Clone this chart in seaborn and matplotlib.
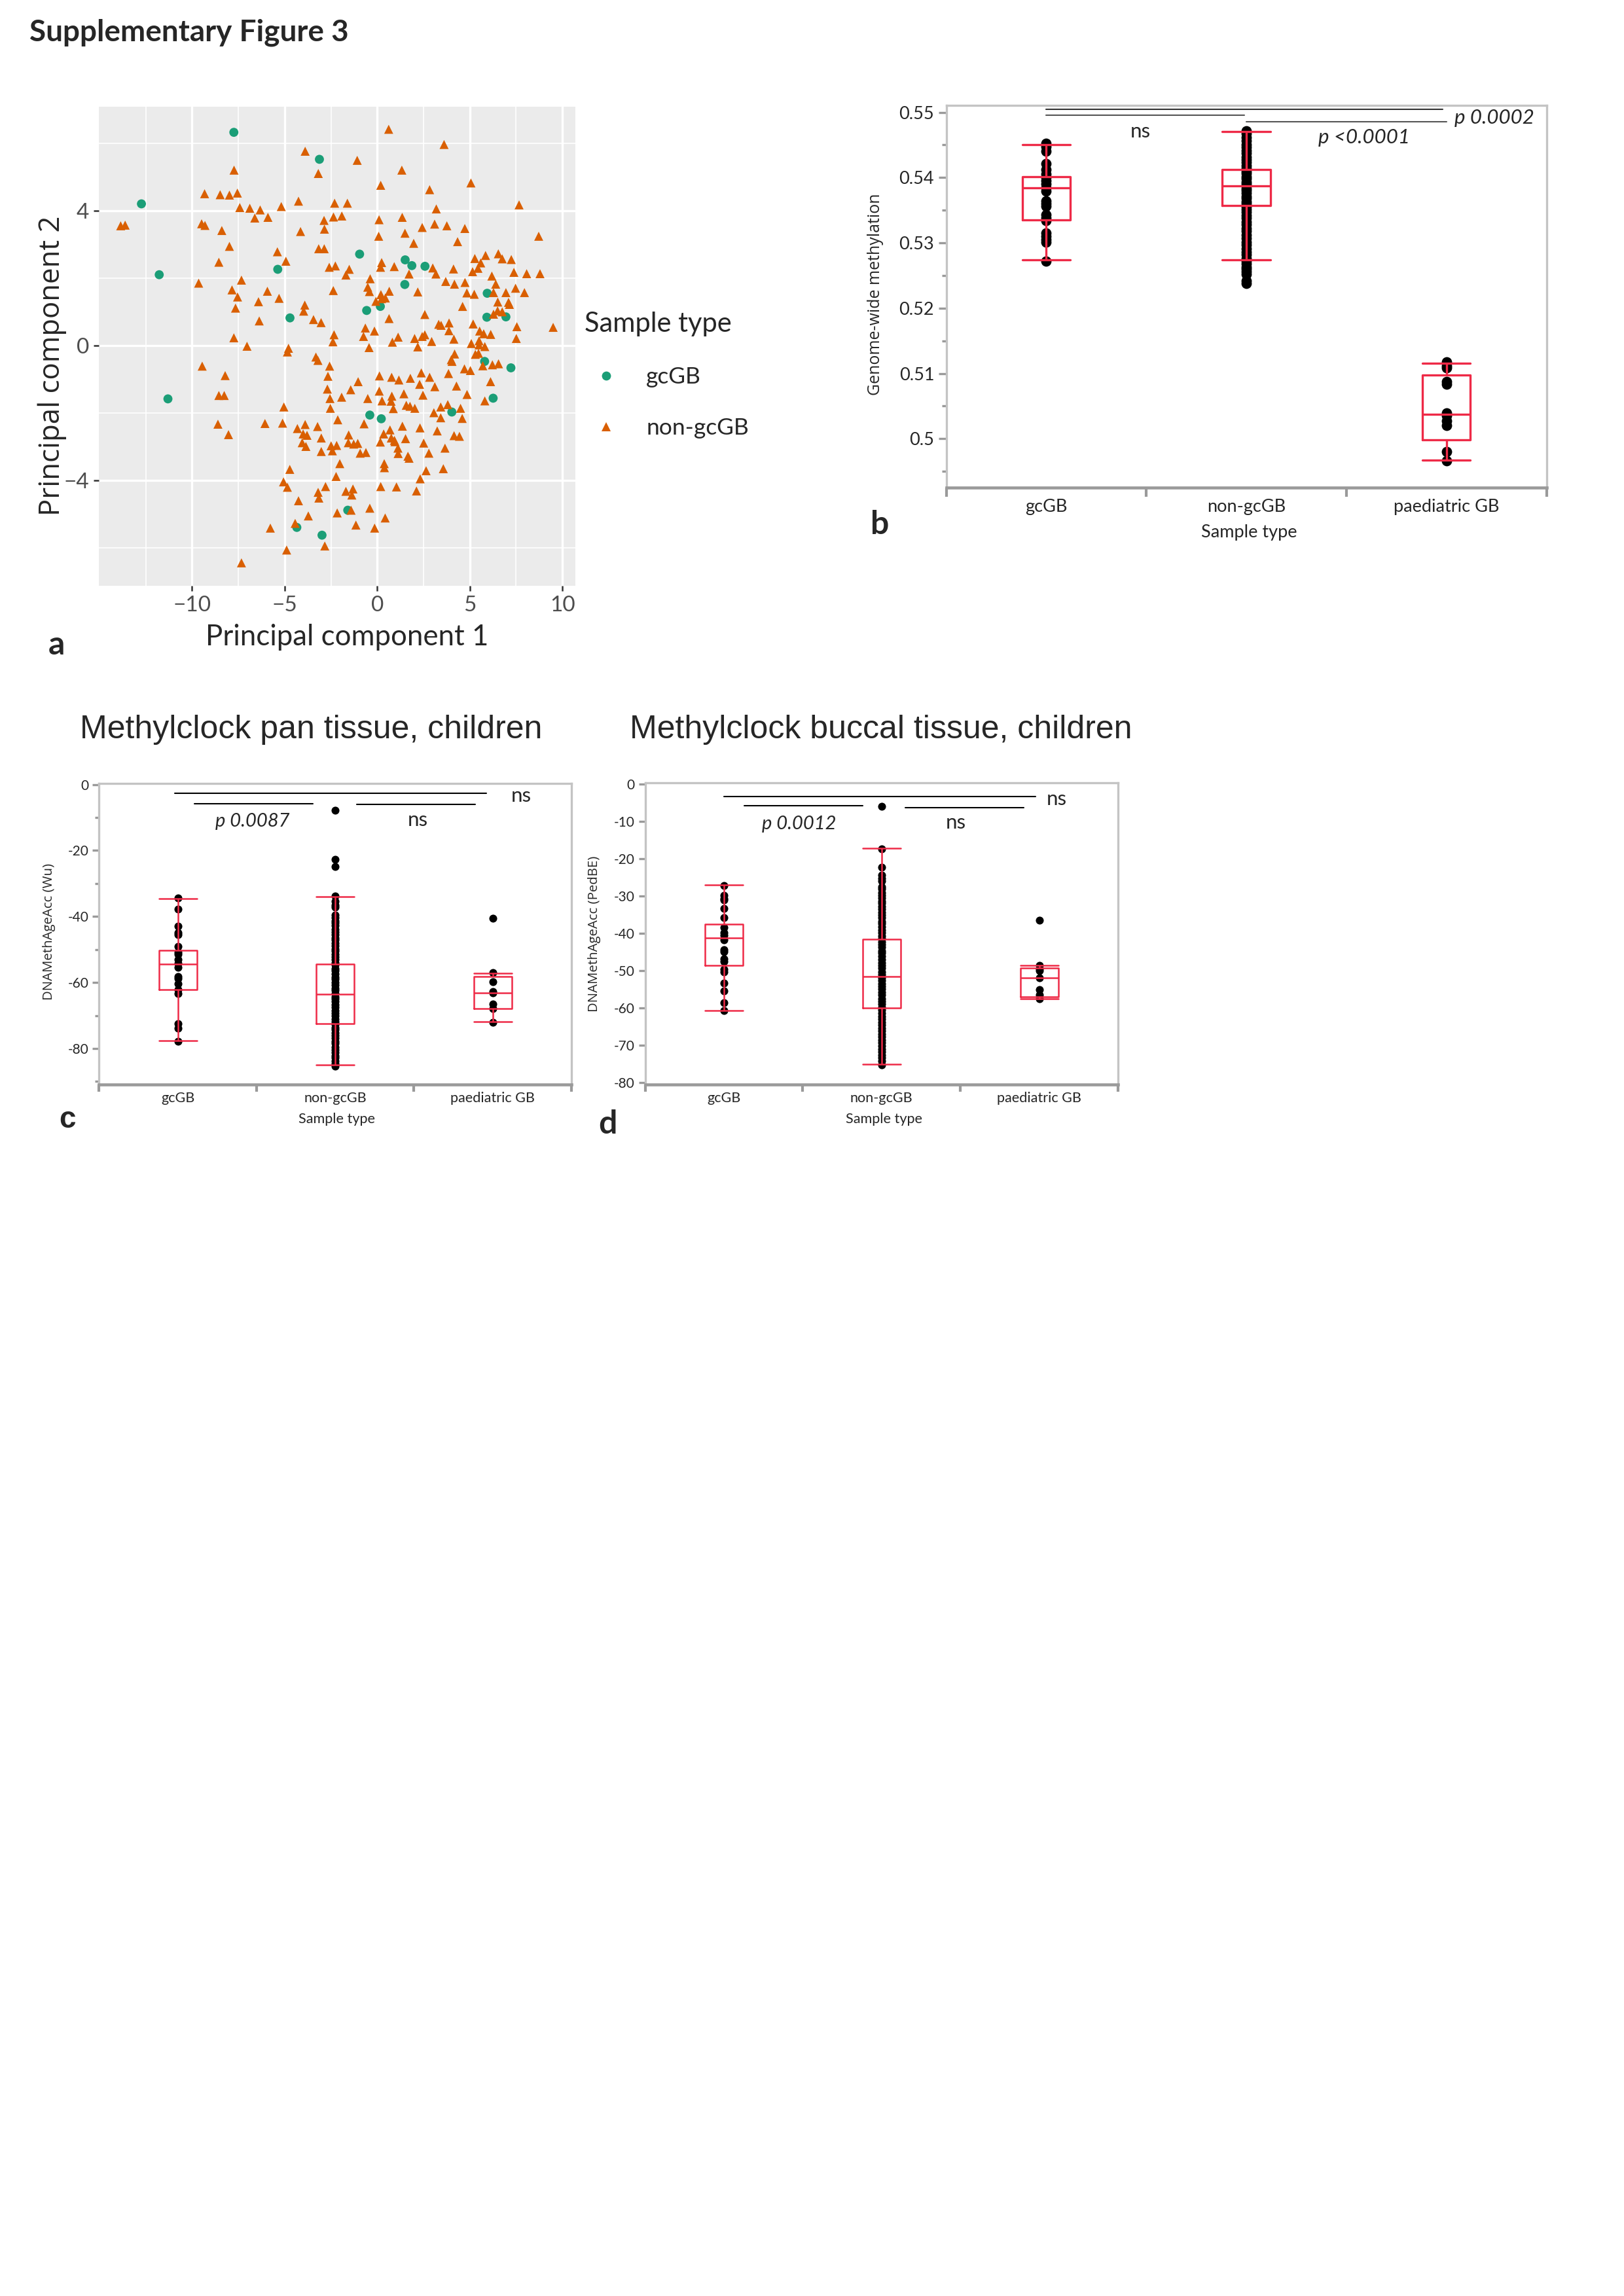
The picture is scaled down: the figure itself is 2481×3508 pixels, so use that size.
import numpy as np
import pandas as pd
import matplotlib
matplotlib.use("Agg")
import matplotlib.pyplot as plt
import seaborn as sns

W, H = 2481, 3508

# ---- panel a : PCA scores ----
gcgb_pc1 = [-7.74, -3.12, -12.73, -11.77, -5.37, -4.71, -0.95, 1.51, 1.87, 2.58,
            1.49, -0.57, 0.17, 5.94, 5.92, 6.95, 5.80, 7.22, 6.26, 4.03,
            -0.40, 0.22, -1.59, -11.30, -4.34, -2.98]
gcgb_pc2 = [6.32, 5.52, 4.20, 2.10, 2.26, 0.82, 2.71, 2.54, 2.37, 2.35,
            1.81, 1.04, 1.16, 1.55, 0.84, 0.85, -0.47, -0.66, -1.56, -1.97,
            -2.06, -2.17, -4.88, -1.58, -5.39, -5.62]

non_pc1 = [
    -3.89, -7.73, -3.18, -9.32, -8.48, -7.98, -7.55, -4.25, -2.30, -7.42, -6.88, -6.32, -5.18,
    -6.61, -5.90, -2.36, -13.85, -13.61, -9.48, -9.30, -8.39, -2.87, -4.14, -2.85, -7.98, -3.16,
    -2.86, -5.39, -8.55, -4.93, -2.59, -2.26, -9.64, -7.33, -7.84, -7.54, -5.93, -5.30, -2.37,
    -6.41, -7.65, -3.91, -3.97, -3.44, -3.03, -6.37, -7.74, -2.33, -2.39, -7.03, -4.79, -4.85,
    0.62, 3.61, -1.08, 1.33, 0.19, 5.06, 2.83, -1.61, 7.66, 3.19, -1.91, 0.10, 1.35, 2.43,
    3.10, 3.76, 4.73, 1.50, 0.08, 4.34, 1.97, 8.72, 0.24, 0.18, 0.92, -1.51, -1.69, 3.00,
    3.17, 1.72, 4.12, 5.27, 5.85, 6.54, 6.75, 7.24, 5.59, 5.44, 5.15, 6.19, 7.38, 8.07,
    8.79, -0.38, 3.70, 4.17, 4.74, -0.51, -0.42, 0.65, 2.19, 4.84, 5.24, 6.40, 6.28, 6.95,
    7.47, 7.95, 0.20, 0.44, 0.24, -0.07, 6.51, 7.09, 7.14, 4.61, 6.50, 6.28, 6.75, 2.57,
    0.64, 3.32, 3.45, 3.88, 3.87, 5.18, 5.53, 5.75, 6.13, 7.54, 9.50, 7.51, -0.64, -0.15,
    -0.74, 1.13, 0.82, 2.02, 2.43, 2.57, 2.94, 4.14, 5.08, 5.50, 5.50, 5.81, 2.19, -0.44,
    4.18, 4.00, 4.04, 5.30, 5.47, 5.70, 6.22, 6.55, 4.71, 5.03, 6.12, 5.81, 3.85, 4.28,
    4.85, -1.03, -1.43, -1.92, -0.51, 0.12, 0.11, 0.26, 0.78, 1.17, 1.79, 2.38, 2.29, 2.83,
    3.11, 0.79, 0.75, 1.44, 2.47, 0.87, 1.57, 1.77, 2.03, 3.43, 3.81, 4.50, 3.06, 3.43,
    4.59, -0.71, 0.69, 0.35, 1.36, 2.31, 3.24, 4.15, 4.44, -1.54, -1.56, -1.27, -1.05, 0.17,
    0.76, 0.93, 0.96, 1.53, 2.51, 1.12, 1.13, 1.66, 1.72, 2.79, 3.66, -0.92, -0.61, -2.02,
    0.38, 0.39, 2.64, 3.57, 2.32, -1.69, -1.31, -1.37, 0.19, 1.04, 2.12, -1.41, -0.40, 0.43,
    -1.15, -0.14,
    -9.45, -8.21, -8.55, -8.26, -5.04, -3.31, -3.20, -2.57, -2.66, -2.69, -2.55, -2.53, -2.13,
    -8.60, -8.03, -6.06, -5.11, -4.31, -3.89, -3.22, -4.00, -3.79, -4.05, -3.85, -3.02, -2.49,
    -2.19, -3.02, -2.42, -2.22, -4.72, -5.06, -4.85, -2.79, -3.19, -3.15, -4.25, -3.72, -2.16,
    -5.77, -4.43, -2.83, -4.89, -7.33]
non_pc2 = [
    5.76, 5.20, 5.10, 4.50, 4.47, 4.46, 4.52, 4.28, 4.22, 4.09, 4.07, 4.02, 4.12,
    3.78, 3.80, 3.81, 3.55, 3.57, 3.61, 3.56, 3.41, 3.71, 3.38, 3.45, 2.94, 2.87,
    2.87, 2.78, 2.47, 2.50, 2.32, 2.36, 1.85, 1.94, 1.65, 1.44, 1.61, 1.40, 1.63,
    1.30, 1.11, 1.20, 1.02, 0.77, 0.68, 0.73, 0.23, 0.32, 0.11, -0.02, -0.08, -0.19,
    6.41, 5.96, 5.49, 5.20, 4.75, 4.82, 4.62, 4.22, 4.17, 4.05, 3.84, 3.73, 3.80, 3.50,
    3.60, 3.55, 3.47, 3.33, 3.24, 3.08, 3.03, 3.24, 2.46, 2.32, 2.34, 2.26, 2.09, 2.30,
    2.12, 2.12, 2.27, 2.58, 2.67, 2.72, 2.57, 2.55, 2.45, 2.29, 2.19, 2.06, 2.17, 2.13,
    2.13, 1.98, 1.90, 1.82, 1.87, 1.73, 1.60, 1.61, 1.59, 1.56, 1.52, 1.82, 1.57, 1.57,
    1.70, 1.57, 1.51, 1.41, 1.39, 1.31, 1.29, 1.28, 1.22, 1.16, 1.03, 0.93, 1.00, 0.92,
    0.80, 0.63, 0.60, 0.67, 0.44, 0.64, 0.43, 0.35, 0.33, 0.56, 0.54, 0.21, 0.52, 0.43,
    0.27, 0.25, 0.10, 0.21, 0.27, 0.32, 0.12, 0.19, 0.06, 0.14, 0.02, -0.03, -0.04, -0.06,
    -0.25, -0.42, -0.47, -0.26, -0.23, -0.60, -0.57, -0.54, -0.69, -0.74, -1.07, -1.64, -0.83, -1.20,
    -1.45, -1.07, -1.31, -1.53, -1.57, -0.90, -1.35, -1.64, -0.94, -1.02, -0.97, -0.81, -1.15, -0.94,
    -1.22, -1.50, -1.65, -1.43, -1.47, -1.87, -1.77, -1.80, -1.86, -1.82, -1.75, -1.86, -1.99, -2.14,
    -2.16, -2.32, -2.50, -2.62, -2.39, -2.44, -2.53, -2.67, -2.69, -2.65, -2.88, -2.92, -2.90, -2.86,
    -2.74, -2.81, -2.85, -2.76, -2.89, -3.04, -3.20, -3.28, -3.34, -3.19, -3.04, -3.19, -3.17, -3.50,
    -3.50, -3.62, -3.71, -3.65, -3.95, -4.32, -4.25, -4.43, -4.18, -4.19, -4.31, -4.88, -4.82, -5.11,
    -5.32, -5.41,
    -0.61, -0.89, -1.48, -1.48, -1.82, -0.34, -0.44, -0.61, -0.91, -1.29, -1.57, -1.86, -2.20,
    -2.33, -2.64, -2.31, -2.30, -2.46, -2.34, -2.40, -2.62, -2.66, -2.88, -2.99, -2.74, -2.97,
    -2.96, -3.14, -3.12, -3.88, -3.67, -4.04, -4.20, -4.18, -4.35, -4.52, -4.60, -5.05, -4.96,
    -5.41, -5.27, -5.94, -6.06, -6.44]

# ---- panels b-d : categories, points and box summaries (min, q1, median, q3, max) ----
categories = ["gcGB", "non-gcGB", "paediatric GB"]

b_gcgb = [0.5452, 0.5447, 0.5440, 0.5421, 0.5412, 0.5405, 0.5400, 0.5395, 0.5390, 0.5384,
          0.5379, 0.5364, 0.5360, 0.5356, 0.5343, 0.5338, 0.5334, 0.5315, 0.5310, 0.5305,
          0.5301, 0.5272]
b_non = [0.5472, 0.5467, 0.5461, 0.5456, 0.5450, 0.5446, 0.5441, 0.5437, 0.5431, 0.5427,
         0.5423, 0.5418, 0.5414, 0.5409, 0.5406, 0.5401, 0.5398, 0.5393, 0.5390, 0.5387,
         0.5383, 0.5380, 0.5376, 0.5371, 0.5368, 0.5363, 0.5360, 0.5355, 0.5351, 0.5347,
         0.5342, 0.5338, 0.5332, 0.5328, 0.5322, 0.5318, 0.5312, 0.5307, 0.5301, 0.5297,
         0.5291, 0.5286, 0.5282, 0.5276, 0.5272, 0.5268, 0.5263, 0.5260, 0.5256, 0.5252,
         0.5242, 0.5238]
b_paed = [0.5118, 0.5112, 0.5109, 0.5088, 0.5084, 0.5039, 0.5035, 0.5027, 0.5020, 0.4980, 0.4966]
b_box = [[0.5274, 0.5335, 0.5384, 0.5401, 0.5450],
         [0.5274, 0.5357, 0.5387, 0.5412, 0.5470],
         [0.4967, 0.4998, 0.5037, 0.5098, 0.5116]]

c_gcgb = [-34.4, -37.8, -43.0, -44.8, -45.4, -49.0, -50.9, -51.5, -53.0, -54.3,
          -55.4, -58.1, -58.7, -60.3, -62.1, -63.4, -72.5, -73.9, -77.9]
c_non = [-7.8, -22.7, -24.8, -33.8, -35.3, -36.5, -37.2, -39.6, -40.3, -41.3, -42.0, -42.8,
         -43.9, -44.6, -45.4, -46.4, -47.1, -48.0, -48.8, -49.8, -50.5, -51.5, -52.2, -53.1,
         -54.0, -54.7, -55.8, -56.4, -57.4, -58.3, -59.0, -60.0, -60.7, -61.7, -62.4, -63.3,
         -64.3, -65.0, -65.8, -66.8, -67.5, -68.5, -69.2, -70.1, -71.1, -71.8, -72.6, -73.6,
         -74.3, -75.3, -76.0, -76.9, -77.9, -78.5, -79.5, -80.3, -81.1, -82.1, -82.8, -83.8,
         -84.5, -85.3]
c_paed = [-40.6, -56.9, -59.7, -62.8, -63.2, -66.5, -67.8, -72.0]
c_box = [[-77.7, -62.1, -54.5, -50.3, -34.6],
         [-84.9, -72.4, -63.6, -54.5, -33.9],
         [-71.9, -67.8, -63.1, -58.2, -57.1]]

d_gcgb = [-27.2, -29.8, -30.7, -31.1, -33.3, -35.8, -38.4, -39.8, -40.6, -41.7,
          -44.5, -45.0, -46.8, -47.6, -49.6, -50.4, -53.3, -55.5, -58.6, -60.8]
d_non = [-6.0, -17.4, -22.4, -24.5, -25.3, -26.0, -27.5, -28.1, -29.2, -29.9, -30.6, -31.4,
         -32.0, -32.9, -33.6, -34.4, -35.1, -35.9, -36.8, -37.4, -38.3, -39.1, -39.8, -40.7,
         -41.4, -42.3, -43.0, -43.8, -44.7, -45.3, -46.2, -47.0, -47.9, -48.6, -49.4, -50.3,
         -51.0, -51.9, -52.6, -53.5, -54.2, -55.0, -55.9, -56.6, -57.5, -58.2, -59.0, -59.9,
         -60.6, -61.5, -62.3, -63.0, -63.9, -64.6, -65.5, -66.2, -67.1, -67.8, -68.7, -69.4,
         -70.2, -71.1, -71.8, -72.7, -73.4, -74.3, -75.3]
d_paed = [-36.6, -48.6, -49.5, -50.0, -51.9, -55.1, -56.6, -57.6]
d_box = [[-60.7, -48.6, -41.2, -37.6, -27.1],
         [-75.2, -60.0, -51.6, -41.6, -17.3],
         [-57.6, -57.0, -51.9, -49.3, -48.6]]

RED = "#ee2a47"
GREEN = "#1b9e77"
ORANGE = "#d95f02"
FRAME = "#c4c4c4"
AXIS = "#9a9a9a"

sns.set_theme(style="white")
plt.rcParams["font.family"] = ["Lato", "DejaVu Sans"]
plt.rcParams["axes.unicode_minus"] = False

fig = plt.figure(figsize=(W / 300, H / 300), dpi=300)
fig.patch.set_facecolor("white")


def px_axes(x0, y0, x1, y1):
    return fig.add_axes([x0 / W, 1 - y1 / H, (x1 - x0) / W, (y1 - y0) / H])


def px_text(x, y, s, **kw):
    kw.setdefault("ha", "center")
    kw.setdefault("va", "center")
    fig.text(x / W, 1 - y / H, s, **kw)


px_text(45, 50, "Supplementary Figure 3", ha="left", fontsize=11, fontweight="bold")

# ---------- a ----------
ax = px_axes(151, 163, 879, 895)
pca = pd.DataFrame({
    "pc1": gcgb_pc1 + non_pc1,
    "pc2": gcgb_pc2 + non_pc2,
    "Sample type": ["gcGB"] * len(gcgb_pc1) + ["non-gcGB"] * len(non_pc1),
})
sns.scatterplot(data=pca, x="pc1", y="pc2", hue="Sample type", style="Sample type",
                hue_order=["gcGB", "non-gcGB"],
                palette={"gcGB": GREEN, "non-gcGB": ORANGE},
                markers={"gcGB": "o", "non-gcGB": "^"}, s=11, linewidth=0, ax=ax)
ax.set_facecolor("#ebebeb")
for s in ax.spines.values():
    s.set_visible(False)
ax.set_xlim(-15.03, 10.7)
ax.set_ylim(-7.12, 7.08)
ax.set_xticks([-10, -5, 0, 5, 10])
ax.set_xticklabels(["\u221210", "\u22125", "0", "5", "10"])
ax.set_xticks([-12.5, -7.5, -2.5, 2.5, 7.5], minor=True)
ax.set_yticks([-4, 0, 4])
ax.set_yticklabels(["\u22124", "0", "4"])
ax.set_yticks([-6, -2, 2, 6], minor=True)
ax.grid(which="major", color="white", linewidth=0.8)
ax.grid(which="minor", color="white", linewidth=0.4)
ax.set_axisbelow(True)
ax.tick_params(which="major", length=2, width=0.6, color="#333333", labelsize=8,
               labelcolor="#4d4d4d", pad=1.5, bottom=True, left=True)
ax.tick_params(which="minor", length=0)
ax.set_xlabel("")
ax.set_ylabel("")
sns.move_legend(ax, "upper left", bbox_to_anchor=(893 / W, 1 - 476 / H),
                bbox_transform=fig.transFigure, frameon=False, title="Sample type",
                title_fontsize=10, fontsize=8.5, labelspacing=1.3, handlelength=1.86,
                handletextpad=0.8, borderpad=0, borderaxespad=0, alignment="left")
px_text(530, 974, "Principal component 1", fontsize=10.5)
px_text(80, 559, "Principal component 2", fontsize=10.5, rotation=90, family=["Open Sans", "DejaVu Sans"])
px_text(86, 985, "a", fontsize=12, fontweight="bold")


def box_panel(ax, groups, box, ylim, major, major_lab, minor, lw, dot, tsize, csize, xtick_len, cpad):
    pts = pd.DataFrame({"Sample type": np.repeat(categories, [len(g) for g in groups]),
                        "value": np.concatenate(groups)})
    summ = pd.DataFrame({"Sample type": np.repeat(categories, 5),
                         "value": np.concatenate(box)})
    sns.stripplot(data=pts, x="Sample type", y="value", order=categories, jitter=False,
                  color="black", size=dot, linewidth=0, zorder=1.5, ax=ax)
    sns.boxplot(data=summ, x="Sample type", y="value", order=categories, whis=(0, 100),
                width=0.24, fill=False, color=RED, linecolor=RED, linewidth=lw,
                showfliers=False, ax=ax)
    # JMP style caps as wide as the box
    for ln in ax.get_lines():
        xd, yd = np.asarray(ln.get_xdata(), float), np.asarray(ln.get_ydata(), float)
        if len(xd) == 2 and yd[0] == yd[1] and abs(xd[1] - xd[0]) < 0.2:
            c = xd.mean()
            ln.set_xdata([c - 0.12, c + 0.12])
    ax.set_facecolor("white")
    for s in ax.spines.values():
        s.set_color(FRAME)
        s.set_linewidth(0.8)
    ax.spines["bottom"].set_color(AXIS)
    ax.spines["bottom"].set_linewidth(1.1)
    ax.set_xlim(-0.5, 2.5)
    ax.set_xticks([-0.5, 0.5, 1.5, 2.5])
    ax.set_xticklabels([])
    ax.set_xticks([0, 1, 2], minor=True)
    ax.set_xticklabels(categories, minor=True)
    ax.tick_params(axis="x", which="major", length=xtick_len, width=1.0, color=AXIS, bottom=True)
    ax.tick_params(axis="x", which="minor", length=0, pad=cpad, labelsize=csize, bottom=True)
    ax.set_ylim(*ylim)
    ax.set_yticks(major)
    ax.set_yticklabels(major_lab)
    ax.set_yticks(minor, minor=True)
    ax.tick_params(axis="y", which="major", length=xtick_len * 0.85, width=0.8, color=AXIS,
                   labelsize=tsize, pad=1.5, left=True)
    ax.tick_params(axis="y", which="minor", length=xtick_len * 0.5, width=0.8, color=AXIS, left=True)
    ax.set_xlabel("")
    ax.set_ylabel("")
    ax.grid(False)


# ---------- b ----------
ax = px_axes(1445.5, 160.6, 2362.5, 744.7)
box_panel(ax, [b_gcgb, b_non, b_paed], b_box, (0.49254, 0.5511),
          [0.50, 0.51, 0.52, 0.53, 0.54, 0.55], ["0.5", "0.51", "0.52", "0.53", "0.54", "0.55"],
          [0.495, 0.505, 0.515, 0.525, 0.535, 0.545], lw=0.8, dot=3.8, tsize=6.5, csize=6.5,
          xtick_len=3.4, cpad=4.2)
ax.plot([0.0, 1.98], [0.5505, 0.5505], color="#333333", lw=0.5)
ax.plot([0.0, 0.99], [0.5496, 0.5496], color="#555555", lw=0.5)
ax.plot([1.0, 2.0], [0.5486, 0.5486], color="#555555", lw=0.5)
ax.text(0.47, 0.5470, "ns", ha="center", va="center", fontsize=7.5)
ax.text(1.59, 0.5461, "p <0.0001", ha="center", va="center", fontsize=7.5, style="italic")
ax.text(2.24, 0.5492, "p 0.0002", ha="center", va="center", fontsize=7.5, style="italic")
px_text(1908, 813, "Sample type", fontsize=6.5)
px_text(1337, 450, "Genome-wide methylation", fontsize=6, rotation=90,
        family=["Open Sans", "DejaVu Sans"])
px_text(1344, 801, "b", fontsize=12, fontweight="bold")

# ---------- c ----------
px_text(475, 1115, "Methylclock pan tissue, children", fontsize=12,
        family=["Liberation Sans", "DejaVu Sans"])
ax = px_axes(151.4, 1197.3, 873, 1657)
box_panel(ax, [c_gcgb, c_non, c_paed], c_box, (-90.9, 0.26),
          [-80, -60, -40, -20, 0], ["-80", "-60", "-40", "-20", "0"],
          [-90, -70, -50, -30, -10], lw=0.6, dot=2.9, tsize=5, csize=5.2,
          xtick_len=2.7, cpad=2.6)
ax.plot([-0.02, 1.96], [-2.75, -2.75], color="black", lw=0.5)
ax.plot([0.105, 0.857], [-5.8, -5.8], color="black", lw=0.5)
ax.plot([1.136, 1.888], [-6.1, -6.1], color="black", lw=0.5)
ax.text(2.18, -3.5, "ns", ha="center", va="center", fontsize=7.5)
ax.text(0.474, -11.1, "p 0.0087", ha="center", va="center", fontsize=7, style="italic")
ax.text(1.526, -10.8, "ns", ha="center", va="center", fontsize=7.5)
px_text(515, 1710, "Sample type", fontsize=5.2)
px_text(75, 1424, "DNAMethAgeAcc (Wu)", fontsize=4.9, rotation=90,
        family=["Open Sans", "DejaVu Sans"])
px_text(103, 1711, "c", fontsize=11, fontweight="bold", family=["Liberation Sans", "DejaVu Sans"])

# ---------- d ----------
px_text(1346, 1115, "Methylclock buccal tissue, children", fontsize=12,
        family=["Liberation Sans", "DejaVu Sans"])
ax = px_axes(985.7, 1196.4, 1708, 1657)
box_panel(ax, [d_gcgb, d_non, d_paed], d_box, (-80.55, 0.24),
          [-80, -70, -60, -50, -40, -30, -20, -10, 0],
          ["-80", "-70", "-60", "-50", "-40", "-30", "-20", "-10", "0"],
          [], lw=0.6, dot=2.9, tsize=5, csize=5.2, xtick_len=2.7, cpad=2.6)
ax.plot([0.0, 1.977], [-3.3, -3.3], color="black", lw=0.5)
ax.plot([0.13, 0.88], [-5.9, -5.9], color="black", lw=0.5)
ax.plot([1.15, 1.90], [-6.3, -6.3], color="black", lw=0.5)
ax.text(2.11, -4.1, "ns", ha="center", va="center", fontsize=7.5)
ax.text(0.478, -10.7, "p 0.0012", ha="center", va="center", fontsize=7, style="italic")
ax.text(1.47, -10.4, "ns", ha="center", va="center", fontsize=7.5)
px_text(1350, 1710, "Sample type", fontsize=5.2)
px_text(908, 1427, "DNAMethAgeAcc (PedBE)", fontsize=4.9, rotation=90,
        family=["Open Sans", "DejaVu Sans"])
px_text(928, 1718, "d", fontsize=12, fontweight="bold")

fig.savefig("out.png", dpi=300, facecolor="white")
